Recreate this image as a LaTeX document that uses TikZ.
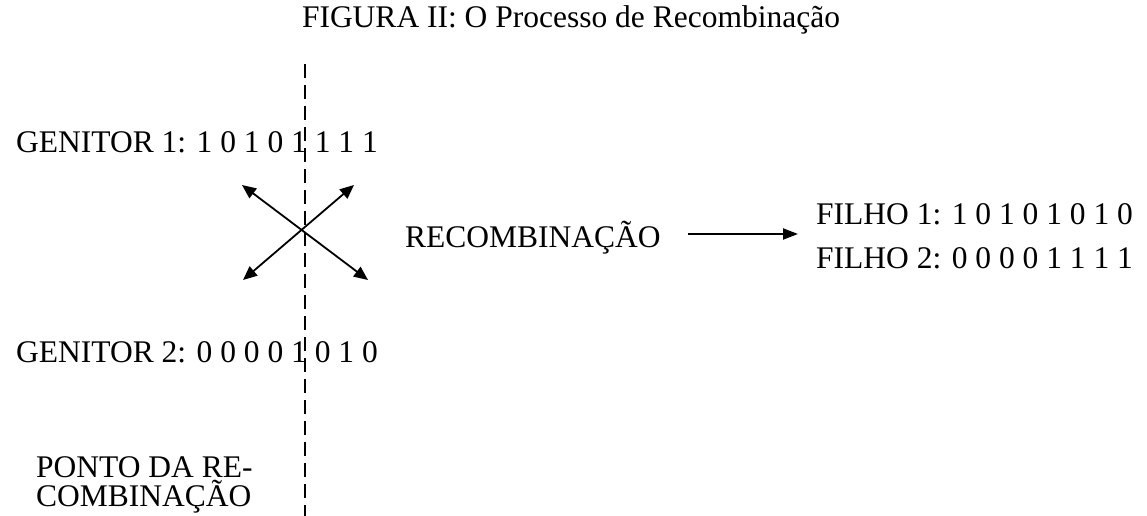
\documentclass[tikz,border=0pt]{standalone}
\usepackage{fontspec}
\setmainfont{Liberation Serif}
\usetikzlibrary{arrows.meta}
\begin{document}
\begin{tikzpicture}[x=1pt,y=-1pt,
  body/.style={inner sep=0pt,anchor=base west,font=\fontsize{31.5}{36}\selectfont},
  ttl/.style={inner sep=0pt,anchor=base,font=\fontsize{31.5}{36}\selectfont},
  conn/.style={line width=1.8pt,{Triangle[length=14pt,width=12pt]}-{Triangle[length=14pt,width=12pt]}},
  oneway/.style={line width=2pt,-{Triangle[length=15pt,width=11pt]}},
  cut/.style={line width=1.8pt,dash pattern=on 14pt off 7pt}]
\useasboundingbox (0,0) rectangle (1147,516);
\node[ttl] (title) at (571,28) {FIGURA II: O Processo de Recombinação};
\node[body] (g1) at (16,152) {GENITOR 1: 1 0 1 0 1 1 1 1};
\node[body] (g2) at (16,362) {GENITOR 2: 0 0 0 0 1 0 1 0};
\node[body] (p1) at (36,477) {PONTO DA RE-};
\node[body] (p2) at (36,506) {COMBINAÇÃO};
\node[body] (rec) at (405,247) {RECOMBINAÇÃO};
\node[body] (f1) at (816,224) {FILHO 1: 1 0 1 0 1 0 1 0};
\node[body] (f2) at (816,268) {FILHO 2: 0 0 0 0 1 1 1 1};
\coordinate (cuttop) at (305,64);
\coordinate (cutbot) at (305,516);
\draw[cut] (cuttop) -- (cutbot);
\coordinate (ul) at (242,185);
\coordinate (ur) at (354,185);
\coordinate (ll) at (243,280);
\coordinate (lr) at (368,280);
\draw[conn] (ul) -- (lr);
\draw[conn] (ll) -- (ur);
\coordinate (as) at (688,234);
\coordinate (ae) at (798,234);
\draw[oneway] (as) -- (ae);
\end{tikzpicture}
\end{document}
